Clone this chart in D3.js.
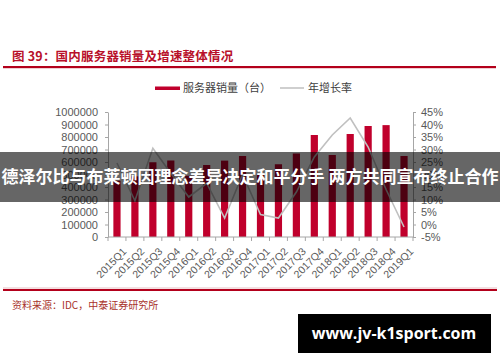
<!DOCTYPE html>
<html>
<head>
<meta charset="utf-8">
<script src="https://cdn.jsdelivr.net/npm/d3@7/dist/d3.min.js"></script>
<style>
body{margin:0;background:#fff;}
svg{display:block;font-family:"Liberation Sans",Arial,sans-serif;}
.cjk{font-family:"Noto Sans CJK SC","Noto Sans",sans-serif;}
</style>
</head>
<body>
<div id="chart"></div>
<script>
const quarters = ["2015Q1","2015Q2","2015Q3","2015Q4","2016Q1","2016Q2","2016Q3","2016Q4",
  "2017Q1","2017Q2","2017Q3","2017Q4","2018Q1","2018Q2","2018Q3","2018Q4","2019Q1"];
const sales = [450000,485000,598000,612000,490000,576000,611000,648000,
  500000,582000,668000,816000,656000,824000,888000,895000,648000];
const growth = [24.6,9.5,30.5,20.5,11,16.5,2.6,20,4,2.6,13,27,35.8,42.6,31,14,-1];
const leftTicks = d3.range(0,1000001,100000);
const rightTicks = d3.range(-5,46,5);

const W = 500, H = 362;
const red = "#c0002c";
const m = {l:108, r:413, t:112, b:237};

const svg = d3.select("#chart").append("svg")
  .attr("width",W).attr("height",H);

// header
svg.append("text").attr("class","cjk")
  .attr("x",12).attr("y",61)
  .attr("fill","#b8102a").attr("font-size",12.5).attr("font-weight","bold")
  .attr("letter-spacing",0.2)
  .text("图 39：国内服务器销量及增速整体情况");
svg.append("rect").attr("x",3).attr("y",66).attr("width",493).attr("height",2.2).attr("fill","#b3001b");

// legend
svg.append("rect").attr("x",155).attr("y",86.5).attr("width",25).attr("height",3.5).attr("fill",red);
svg.append("text").attr("class","cjk").attr("x",183).attr("y",92).attr("font-size",11).attr("fill","#404040")
  .text("服务器销量（台）");
svg.append("line").attr("x1",280).attr("x2",304).attr("y1",88).attr("y2",88)
  .attr("stroke","#bfbfbf").attr("stroke-width",1.5);
svg.append("text").attr("class","cjk").attr("x",308).attr("y",92).attr("font-size",11).attr("fill","#404040")
  .text("年增长率");

// scales
const xs = d3.scaleBand().domain(quarters).range([m.l,m.r]);
const yL = d3.scaleLinear().domain([0,1000000]).range([m.b,m.t]);
const yR = d3.scaleLinear().domain([-5,45]).range([m.b,m.t]);

// bars
svg.append("g").selectAll("rect")
  .data(quarters)
  .enter().append("rect")
  .attr("x",d=>xs(d)+xs.bandwidth()/2-3.6)
  .attr("width",7.2)
  .attr("y",(d,i)=>yL(sales[i]))
  .attr("height",(d,i)=>m.b-yL(sales[i]))
  .attr("fill",red);

// growth line
const line = d3.line()
  .x((d,i)=>xs(quarters[i])+xs.bandwidth()/2)
  .y(d=>yR(d));
svg.append("path").datum(growth)
  .attr("d",line)
  .attr("fill","none")
  .attr("stroke","#c0c0c0")
  .attr("stroke-width",1.6);

// axes
const gl = svg.append("g").attr("transform","translate("+m.l+",0)")
  .call(d3.axisLeft(yL).tickValues(leftTicks).tickSize(3).tickSizeOuter(0).tickFormat(d3.format("d")));
const gr = svg.append("g").attr("transform","translate("+m.r+",0)")
  .call(d3.axisRight(yR).tickValues(rightTicks).tickSize(3).tickSizeOuter(0).tickFormat(d=>d+"%"));
[gl,gr].forEach(g=>{
  g.select(".domain").attr("stroke","#a6a6a6");
  g.selectAll(".tick line").attr("stroke","#a6a6a6");
  g.selectAll("text").attr("fill","#595959").attr("font-size",11)
    .attr("font-family","Liberation Sans, Arial, sans-serif");
});
gl.selectAll("text").attr("x",-10);
gr.selectAll("text").attr("x",8);

const gx = svg.append("g").attr("transform","translate(0,"+m.b+")");
gx.append("line").attr("x1",m.l).attr("x2",m.r).attr("stroke","#a6a6a6");
gx.selectAll(".xt").data(quarters.concat(["end"]))
  .enter().append("line")
  .attr("x1",(d,i)=>i<quarters.length ? xs(d) : m.r)
  .attr("x2",(d,i)=>i<quarters.length ? xs(d) : m.r)
  .attr("y1",0).attr("y2",4).attr("stroke","#a6a6a6");
gx.selectAll(".xl").data(quarters)
  .enter().append("text")
  .attr("transform",d=>"translate("+(xs(d)+xs.bandwidth()/2+5)+",10) rotate(-45)")
  .attr("text-anchor","end")
  .attr("dy","0.7em")
  .attr("font-size",10.5)
  .attr("fill","#595959")
  .text(d=>d);

// footer
svg.append("rect").attr("x",3).attr("y",289).attr("width",494).attr("height",2).attr("fill","#b3001b");
svg.append("rect").attr("x",3).attr("y",287.5).attr("width",494).attr("height",1).attr("fill","#e8c0c4");
svg.append("text").attr("class","cjk").attr("x",12).attr("y",309)
  .attr("font-size",10).attr("fill","#a8322a")
  .text("资料来源：IDC，中泰证券研究所");

// overlay banner
svg.append("rect").attr("x",0).attr("y",152).attr("width",W).attr("height",50)
  .attr("fill","#000").attr("opacity",0.6);
svg.append("text").attr("class","cjk").attr("x",W/2).attr("y",183)
  .attr("text-anchor","middle").attr("font-size",17).attr("font-weight","bold").attr("fill","#fff")
  .text("德泽尔比与布莱顿因理念差异决定和平分手 两方共同宣布终止合作");

// watermark
svg.append("rect").attr("x",298).attr("y",314).attr("width",193).attr("height",39).attr("fill","#000");
svg.append("text").attr("x",394).attr("y",339)
  .attr("text-anchor","middle").attr("font-size",16).attr("font-weight","bold").attr("fill","#fff")
  .attr("font-family","Open Sans, DejaVu Sans, sans-serif")
  .text("www.jv-k1sport.com");
</script>
</body>
</html>
